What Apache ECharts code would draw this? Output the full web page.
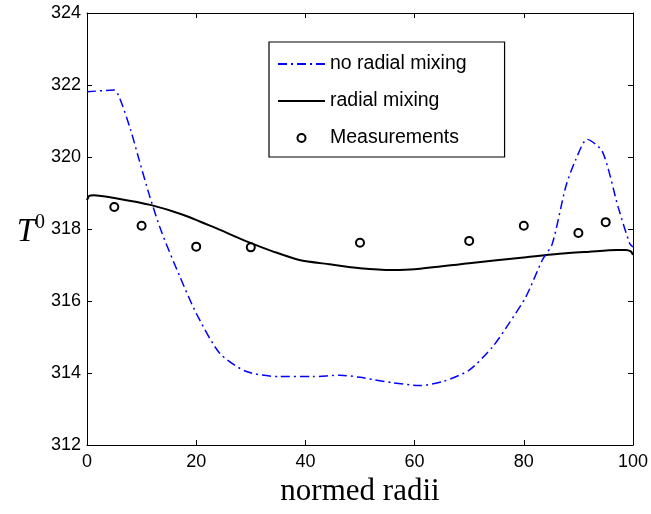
<!DOCTYPE html>
<html>
<head>
<meta charset="utf-8">
<script src="https://cdn.jsdelivr.net/npm/echarts@6/dist/echarts.min.js"></script>
<style>html,body{margin:0;padding:0;background:#fff}#c{width:651px;height:514px}</style>
</head>
<body>
<div id="c"></div>
<script>
var xTicks = [0, 20, 40, 60, 80, 100];
var yTicks = [312, 314, 316, 318, 320, 322, 324];

var noMixX = [0, 5, 6, 8, 9.4, 11.5, 13.7, 17, 20, 24.3, 29.2, 35.3, 41.4, 46.3, 50, 52.3, 56, 60.9, 65.1, 70, 74.3, 77.3, 80.4, 83.4, 85.2, 87.7, 89.5, 91.6, 94.4, 97.3, 99.4, 100];
var noMixY = [321.81, 321.86, 321.63, 320.75, 320.0, 318.9, 317.9, 316.68, 315.66, 314.55, 314.04, 313.9, 313.9, 313.94, 313.88, 313.82, 313.73, 313.65, 313.76, 314.08, 314.73, 315.38, 316.12, 317.14, 317.58, 319.18, 319.92, 320.49, 320.15, 318.6, 317.6, 317.5];

var mixX = [0, 0.4, 1.2, 5.5, 11.6, 17.7, 23.2, 29.8, 34, 38.9, 44.4, 50, 56, 60, 70, 80, 86.5, 92, 97, 98.7, 99.6, 100];
var mixY = [318.8, 318.92, 318.94, 318.85, 318.67, 318.39, 318.05, 317.62, 317.38, 317.14, 317.02, 316.91, 316.86, 316.88, 317.05, 317.21, 317.31, 317.37, 317.42, 317.42, 317.38, 317.28];

var measX = [5, 10, 20, 30, 50, 70, 80, 90, 95];
var measY = [318.61, 318.09, 317.51, 317.49, 317.62, 317.67, 318.09, 317.89, 318.19];

var seriesNames = ['no radial mixing', 'radial mixing', 'Measurements'];

function zip(a, b) { return a.map(function (v, i) { return [v, b[i]]; }); }

var chart = echarts.init(document.getElementById('c'), null, { renderer: 'canvas' });
var tickFont = { color: '#000', fontFamily: 'Liberation Sans, Arial, sans-serif', fontSize: 18 };
chart.setOption({
  animation: false,
  backgroundColor: '#fff',
  grid: { left: 87, right: 17, top: 13, bottom: 69, containLabel: false },
  legend: {
    orient: 'vertical',
    left: 269, top: 42,
    padding: [12, 38, 9, 8],
    borderColor: '#000', borderWidth: 1.2, borderRadius: 0,
    backgroundColor: '#fff',
    itemWidth: 47, itemHeight: 8, itemGap: 17,
    textStyle: { color: '#000', fontFamily: 'Liberation Sans, Arial, sans-serif', fontSize: 19.5 },
    data: [
      { name: seriesNames[0], itemStyle: { opacity: 0 } },
      { name: seriesNames[1], itemStyle: { opacity: 0 } },
      { name: seriesNames[2], itemStyle: { opacity: 1 } }
    ]
  },
  xAxis: [{
    type: 'value', min: 0, max: 100, interval: 20,
    name: 'normed radii', nameLocation: 'middle', nameGap: 30,
    nameTextStyle: { color: '#000', fontFamily: 'Liberation Serif, DejaVu Serif, serif', fontSize: 31 },
    axisLine: { show: true, onZero: false, lineStyle: { color: '#000', width: 1 } },
    axisTick: { show: true, inside: true, length: 5, lineStyle: { color: '#000' } },
    axisLabel: Object.assign({ margin: 8 }, tickFont),
    splitLine: { show: false }
  }, {
    type: 'value', position: 'top', min: 0, max: 100, interval: 20,
    axisLine: { show: true, onZero: false, lineStyle: { color: '#000', width: 1 } },
    axisTick: { show: true, inside: true, length: 5, lineStyle: { color: '#000' } },
    axisLabel: { show: false }, splitLine: { show: false }
  }],
  yAxis: [{
    type: 'value', min: 312, max: 324, interval: 2,
    name: '{t|T}{s|0}', nameLocation: 'middle', nameGap: 42, nameRotate: 0,
    nameTextStyle: {
      rich: {
        t: { fontFamily: 'Liberation Serif, DejaVu Serif, serif', fontStyle: 'italic', fontSize: 33, color: '#000', padding: [6, 0, 0, 0] },
        s: { fontFamily: 'Liberation Serif, DejaVu Serif, serif', fontSize: 20, color: '#000', padding: [0, 0, 12, 0] }
      }
    },
    axisLine: { show: true, onZero: false, lineStyle: { color: '#000', width: 1 } },
    axisTick: { show: true, inside: true, length: 5, lineStyle: { color: '#000' } },
    axisLabel: Object.assign({ margin: 6 }, tickFont),
    splitLine: { show: false }
  }, {
    type: 'value', position: 'right', min: 312, max: 324, interval: 2,
    axisLine: { show: true, onZero: false, lineStyle: { color: '#000', width: 1 } },
    axisTick: { show: true, inside: true, length: 5, lineStyle: { color: '#000' } },
    axisLabel: { show: false }, splitLine: { show: false }
  }],
  series: [{
    name: seriesNames[0], type: 'line', smooth: 0.25, showSymbol: false, symbol: 'none',
    data: zip(noMixX, noMixY),
    color: '#0000ff',
    lineStyle: { color: '#0000ff', width: 1.5, type: [9, 4, 2, 4] },
    z: 3
  }, {
    name: seriesNames[1], type: 'line', smooth: 0.25, showSymbol: false, symbol: 'none',
    data: zip(mixX, mixY),
    color: '#000',
    lineStyle: { color: '#000', width: 2 },
    z: 2
  }, {
    name: seriesNames[2], type: 'scatter', symbol: 'emptyCircle', symbolSize: 8,
    data: zip(measX, measY),
    itemStyle: { color: '#000', borderColor: '#000', borderWidth: 1.6, opacity: 1 },
    z: 4
  }]
});
</script>
</body>
</html>
